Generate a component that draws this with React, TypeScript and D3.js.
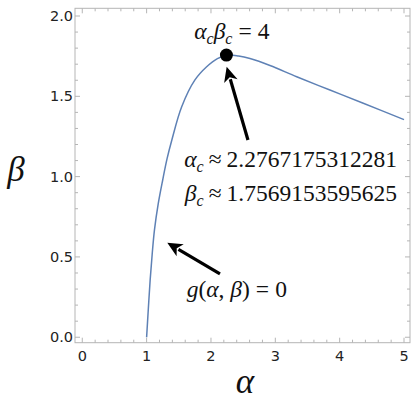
import * as d3 from 'd3';

// curve g(alpha, beta) = 0
const alphaVals = [1.0, 1.027, 1.055, 1.087, 1.122, 1.18, 1.25, 1.317, 1.392, 1.545, 1.751, 1.933, 2.1, 2.264, 2.43, 2.606, 2.917, 3.332, 3.849, 4.367, 5.0];
const betaVals = [0, 0.18, 0.357, 0.52, 0.668, 0.83, 0.979, 1.11, 1.228, 1.435, 1.602, 1.684, 1.735, 1.757, 1.751, 1.735, 1.692, 1.622, 1.539, 1.457, 1.355];

const critPoint = [2.24, 1.757];
const xTickLabels = ['0', '1', '2', '3', '4', '5'];
const yTickLabels = ['0.0', '0.5', '1.0', '1.5', '2.0'];

// annotation anchors in data units
const arrowTop = { from: [2.575, 1.228], to: [2.244, 1.684] };
const arrowLow = { from: [2.14, 0.394], to: [1.321, 0.589] };

const W = 415, H = 403;
const frame = { l: 75, r: 410, t: 8.3, b: 342.7 };
const gray = '#b5b5b5';
const serif = '"Liberation Serif", "DejaVu Serif", serif';
const fs = 23.5, sub = 16;

export default function App() {
  const x = d3.scaleLinear().domain([-0.113, 5.093]).range([frame.l, frame.r]);
  const y = d3.scaleLinear().domain([-0.034, 2.048]).range([frame.b, frame.t]);

  const pts = alphaVals.map((a, i) => [a, betaVals[i]] as [number, number]);
  const line = d3.line<[number, number]>()
    .x(d => x(d[0])).y(d => y(d[1]))
    .curve(d3.curveCatmullRom.alpha(0.5));

  const xMinor = d3.range(0, 5.01, 0.2);
  const yMinor = d3.range(0, 2.001, 0.1);

  const arrow = (a: { from: number[]; to: number[] }) => {
    const x1 = x(a.from[0]), y1 = y(a.from[1]);
    const x2 = x(a.to[0]), y2 = y(a.to[1]);
    const ang = Math.atan2(y2 - y1, x2 - x1);
    const hl = 15, hw = 7;
    const bx = x2 - hl * Math.cos(ang), by = y2 - hl * Math.sin(ang);
    const px = -Math.sin(ang) * hw, py = Math.cos(ang) * hw;
    return (
      <g>
        <line x1={x1} y1={y1} x2={bx + 2 * Math.cos(ang)} y2={by + 2 * Math.sin(ang)} stroke="#000" strokeWidth={3.2} />
        <path d={`M${x2},${y2}L${bx + px},${by + py}L${bx + 4 * Math.cos(ang)},${by + 4 * Math.sin(ang)}L${bx - px},${by - py}Z`} fill="#000" />
      </g>
    );
  };

  return (
    <svg width={W} height={H} style={{ position: 'absolute', left: 0, top: 0 }}>
      <rect width={W} height={H} fill="#fff" />
      {/* frame */}
      <rect x={frame.l} y={frame.t} width={frame.r - frame.l} height={frame.b - frame.t} fill="none" stroke={gray} strokeWidth={1} />
      {xMinor.map((v, i) => {
        const major = Math.abs(v - Math.round(v)) < 1e-6;
        const len = major ? 5 : 3;
        return (
          <g key={'xt' + i}>
            <line x1={x(v)} x2={x(v)} y1={frame.b} y2={frame.b - len} stroke={gray} />
            <line x1={x(v)} x2={x(v)} y1={frame.t} y2={frame.t + len} stroke={gray} />
          </g>
        );
      })}
      {yMinor.map((v, i) => {
        const major = Math.abs(v * 2 - Math.round(v * 2)) < 1e-6;
        const len = major ? 5 : 3;
        return (
          <g key={'yt' + i}>
            <line y1={y(v)} y2={y(v)} x1={frame.l} x2={frame.l + len} stroke={gray} />
            <line y1={y(v)} y2={y(v)} x1={frame.r} x2={frame.r - len} stroke={gray} />
          </g>
        );
      })}
      {xTickLabels.map(t => (
        <text key={'xl' + t} x={x(+t)} y={361} textAnchor="middle" fontFamily="DejaVu Sans" fontSize={14.5} fill="#222">{t}</text>
      ))}
      {yTickLabels.map(t => (
        <text key={'yl' + t} x={73} y={y(+t) + 5} textAnchor="end" fontFamily="DejaVu Sans" fontSize={14.5} fill="#222">{t}</text>
      ))}
      {/* axis labels */}
      <text x={16} y={181} textAnchor="middle" fontFamily={serif} fontStyle="italic" fontSize={35} fill="#111">β</text>
      <text x={245} y={393} textAnchor="middle" fontFamily={serif} fontStyle="italic" fontSize={35} fill="#111">α</text>

      <path d={line(pts) ?? ''} fill="none" stroke="#5e81b5" strokeWidth={1.5} />
      <circle cx={x(critPoint[0])} cy={y(critPoint[1])} r={6.5} fill="#000" />

      {arrow(arrowTop)}
      {arrow(arrowLow)}

      {/* annotations */}
      <text x={x(1.739)} y={y(1.855)} fontFamily={serif} fontSize={fs} fill="#111">
        <tspan fontStyle="italic">α</tspan><tspan fontStyle="italic" fontSize={sub} dy={5}>c</tspan>
        <tspan fontStyle="italic" dy={-5}>β</tspan><tspan fontStyle="italic" fontSize={sub} dy={5}>c</tspan>
        <tspan dy={-5} dx={6}>=</tspan><tspan dx={6}>4</tspan>
      </text>
      <text x={x(4.89)} y={y(1.062)} textAnchor="end" fontFamily={serif} fontSize={fs} fill="#111">
        <tspan fontStyle="italic">α</tspan><tspan fontStyle="italic" fontSize={sub} dy={5}>c</tspan>
        <tspan dy={-5} dx={5}>≈</tspan><tspan dx={5}>2.2767175312281</tspan>
      </text>
      <text x={x(4.89)} y={y(0.85)} textAnchor="end" fontFamily={serif} fontSize={fs} fill="#111">
        <tspan fontStyle="italic">β</tspan><tspan fontStyle="italic" fontSize={sub} dy={5}>c</tspan>
        <tspan dy={-5} dx={5}>≈</tspan><tspan dx={5}>1.7569153595625</tspan>
      </text>
      <text x={x(1.622)} y={y(0.253)} fontFamily={serif} fontSize={fs} fill="#111">
        <tspan fontStyle="italic">g</tspan><tspan>(</tspan><tspan fontStyle="italic">α</tspan><tspan>, </tspan>
        <tspan fontStyle="italic">β</tspan><tspan>)</tspan><tspan dx={6}>=</tspan><tspan dx={6}>0</tspan>
      </text>
    </svg>
  );
}
